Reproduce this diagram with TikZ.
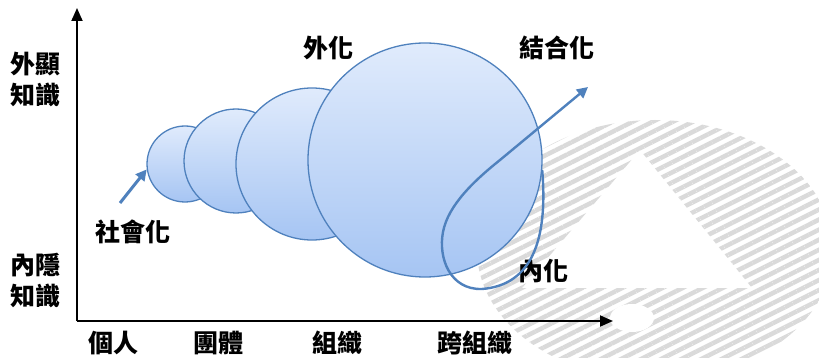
\documentclass[tikz,border=0pt]{standalone}
\usepackage{fontspec}
\newfontfamily\cjk{Noto Sans CJK TC}
\usetikzlibrary{arrows.meta,patterns.meta}
\definecolor{cedge}{HTML}{4F81BD}
\definecolor{ctop}{HTML}{E0EBFC}
\definecolor{cbot}{HTML}{A6C5F3}
\definecolor{hatch}{HTML}{DADADA}
\begin{document}
\begin{tikzpicture}[x=1pt,y=-1pt,
  lbl/.style={font=\cjk\bfseries\fontsize{25}{31}\selectfont, inner sep=0pt, align=center},
  bubble/.style={circle, inner sep=0pt, draw=cedge, line width=1.3pt, top color=ctop, bottom color=cbot},
  flow/.style={draw=cedge, line width=2.4pt, -{Triangle[length=11pt,width=11pt]}},
  axis/.style={line width=1.8pt, -{Triangle[length=13pt,width=11pt]}}]
\useasboundingbox (0,0) rectangle (819,358);
% watermark
\begin{scope}
\clip (0,0) rectangle (819,358);
\fill[pattern={Lines[angle=26.6,distance=9pt,line width=4.5pt]}, pattern color=hatch, even odd rule]
  (655,250) ellipse[x radius=178, y radius=130] (640,150) -- (522,288) -- (752,288) -- cycle;
\fill[white] (632,318) ellipse[x radius=22, y radius=14];
\end{scope}
% bubbles
\node[bubble, minimum size=76pt]  (c1) at (185,164) {};
\node[bubble, minimum size=104pt] (c2) at (236,161) {};
\node[bubble, minimum size=152pt] (c3) at (312,164) {};
\node[bubble, minimum size=234pt] (c4) at (425,160) {};
% axes
\coordinate (o) at (77,321);
\coordinate (ytop) at (77,8);
\coordinate (xend) at (613,321);
\draw[axis] (o) -- (ytop);
\draw[axis] (o) -- (xend);
% labels
\node[lbl] (ext) at (35,79) {外顯\\知識};
\node[lbl] (tac) at (35,280) {內隱\\知識};
\node[lbl] (ind) at (113,343) {個人};
\node[lbl] (grp) at (218,343) {團體};
\node[lbl] (org) at (337,343) {組織};
\node[lbl] (xorg) at (475,343) {跨組織};
\node[lbl] (soc) at (133,232) {社會化};
\node[lbl] (exz) at (328,48) {外化};
\node[lbl] (com) at (557,48) {結合化};
\node[lbl] (inz) at (543,271) {內化};
% flows
\coordinate (s0) at (120,203);
\draw[flow, line width=3pt] (s0) -- (c1.188);
\coordinate (ctip) at (588,87);
\draw[flow] (c4.-5) .. controls (548,240) and (532,285) .. (482,289)
  .. controls (450,290) and (438,258) .. (443,232)
  .. controls (448,205) and (475,180) .. (500,160) -- (ctip);
\end{tikzpicture}
\end{document}
